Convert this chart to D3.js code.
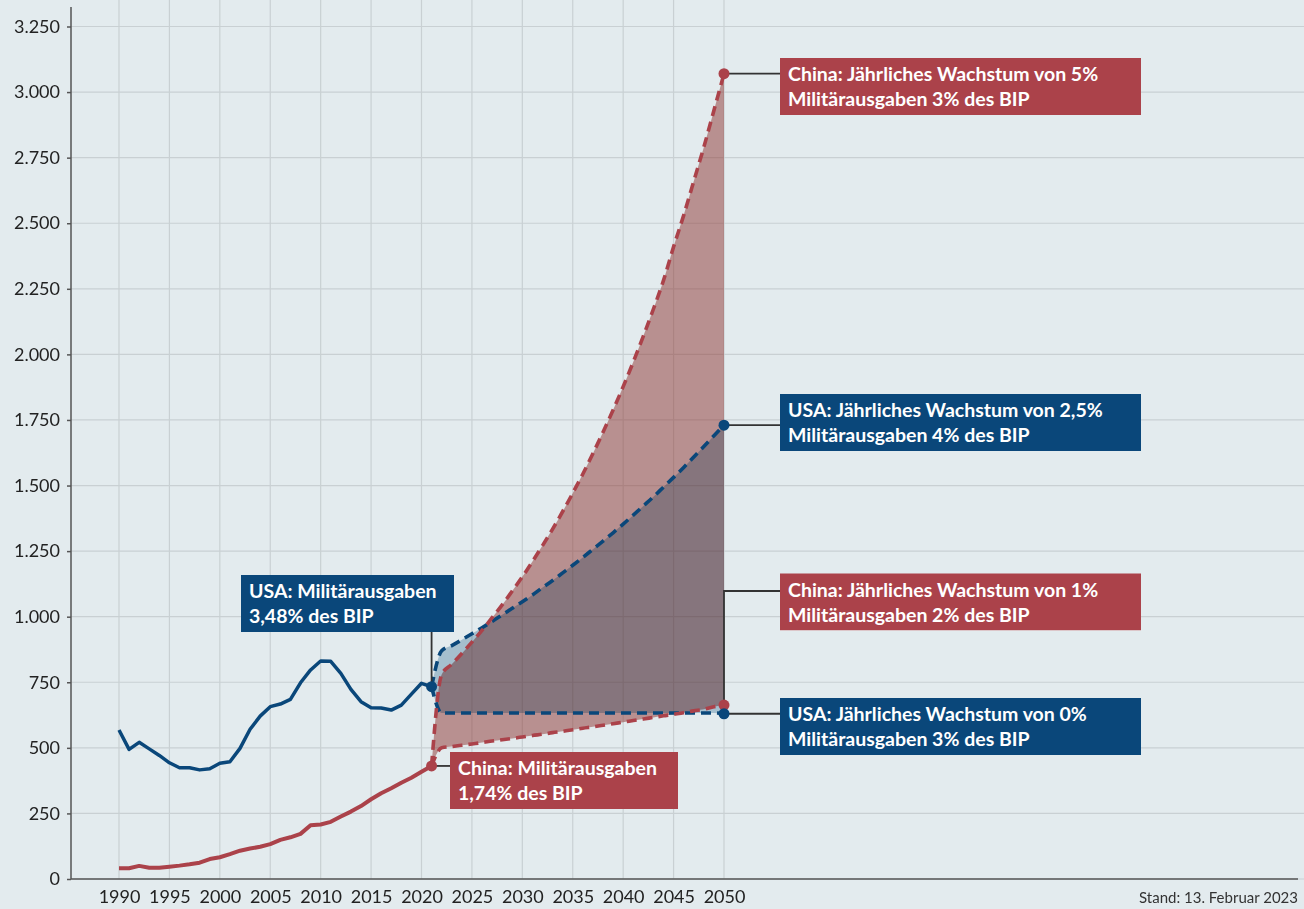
<!DOCTYPE html>
<html>
<head>
<meta charset="utf-8">
<script src="https://cdn.jsdelivr.net/npm/d3@7"></script>
<style>
  body { margin: 0; background: #e3ebee; }
  svg { display: block; font-family: Lato, "Noto Sans", sans-serif; }
</style>
</head>
<body>
<svg id="chart" width="1304" height="909"></svg>
<script>
// historical military spending, bn USD
const histYears = [1990, 1991, 1992, 1993, 1994, 1995, 1996, 1997, 1998, 1999, 2000, 2001, 2002, 2003, 2004, 2005,
  2006, 2007, 2008, 2009, 2010, 2011, 2012, 2013, 2014, 2015, 2016, 2017, 2018, 2019, 2020, 2021]
const usaHist = [568, 494, 521, 496, 471, 443, 424, 424, 416, 420, 441, 447, 498, 571, 621, 657,
  667, 685, 748, 797, 831, 830, 784, 723, 676, 653, 652, 644, 663, 705, 746, 733]
const chinaHist = [41, 41, 50, 43, 43, 47, 51, 56, 62, 76, 83, 95, 108, 116, 123, 133,
  149, 159, 172, 205, 208, 218, 238, 257, 278, 304, 327, 346, 367, 386, 409, 431]

// scenarios 2021-2050
const projYears = [2021, 2022, 2023, 2024, 2025, 2026, 2027, 2028, 2029, 2030, 2031, 2032, 2033, 2034, 2035,
  2036, 2037, 2038, 2039, 2040, 2041, 2042, 2043, 2044, 2045, 2046, 2047, 2048, 2049, 2050]
const chinaHigh = [431, 780, 819, 860, 903, 948, 996, 1045, 1098, 1152, 1210, 1271, 1334, 1401, 1471,
  1544, 1622, 1703, 1788, 1877, 1971, 2070, 2173, 2282, 2410, 2530, 2660, 2790, 2930, 3070]
const chinaLow = [431, 500, 505, 510, 515, 520, 526, 531, 536, 541, 547, 552, 558, 563, 569,
  575, 580, 586, 592, 598, 604, 610, 616, 622, 628, 634, 641, 647, 657, 663]
const usaHigh = [733, 870, 890, 912, 935, 958, 982, 1007, 1032, 1057, 1083, 1111, 1138, 1167, 1196,
  1226, 1257, 1288, 1320, 1353, 1387, 1422, 1457, 1494, 1531, 1569, 1609, 1649, 1690, 1730]
const usaLow = [733, 633, 633, 633, 633, 633, 633, 633, 633, 633, 633, 633, 633, 633, 633,
  633, 633, 633, 633, 633, 633, 633, 633, 633, 633, 633, 633, 633, 633, 630]

const xTicks = [1990, 1995, 2000, 2005, 2010, 2015, 2020, 2025, 2030, 2035, 2040, 2045, 2050]
const yTicks = [0, 250, 500, 750, 1000, 1250, 1500, 1750, 2000, 2250, 2500, 2750, 3000, 3250]

const RED = '#ab424a'
const BLUE = '#0a477a'

const W = 1304, H = 909
const plotLeft = 71, plotRight = 1300, plotTop = 7, plotBottom = 879

let svg = d3.select('#chart')
svg.append('rect').attr('width', W).attr('height', H).attr('fill', '#e3ebee')

let x = d3.scaleLinear().domain([1990, 2050]).range([119, 724])
let y = d3.scaleLinear().domain([0, 3250]).range([plotBottom, 26.5])

const de = d3.formatLocale({ decimal: ',', thousands: '.', grouping: [3], currency: ['', ' €'] })
const fmt = de.format(',d')

// grid
svg.append('g')
  .selectAll('line')
  .data(yTicks)
  .enter()
  .append('line')
  .attr('x1', plotLeft)
  .attr('x2', W)
  .attr('y1', (d) => y(d))
  .attr('y2', (d) => y(d))
  .attr('stroke', '#c9d0d3')
  .attr('stroke-width', 1.2)

svg.append('g')
  .selectAll('line')
  .data(xTicks)
  .enter()
  .append('line')
  .attr('x1', (d) => x(d))
  .attr('x2', (d) => x(d))
  .attr('y1', 0)
  .attr('y2', plotBottom)
  .attr('stroke', '#c9d0d3')
  .attr('stroke-width', 1.2)

// axes
let yAxis = d3.axisLeft(y).tickValues(yTicks).tickFormat(fmt).tickSize(4).tickPadding(7)
let gy = svg.append('g').attr('transform', `translate(${plotLeft},0)`).call(yAxis)
gy.select('.domain').remove()
gy.selectAll('.tick line').attr('stroke', '#555').attr('stroke-width', 1.5)
gy.selectAll('.tick text').attr('font-size', 18).attr('fill', '#222').style('font-family', 'Lato, sans-serif')

let xAxis = d3.axisBottom(x).tickValues(xTicks).tickFormat((d) => d).tickSize(0).tickPadding(11)
let gx = svg.append('g').attr('transform', `translate(0,${plotBottom})`).call(xAxis)
gx.select('.domain').remove()
gx.selectAll('.tick text').attr('font-size', 18).attr('fill', '#222').style('font-family', 'Lato, sans-serif')

svg.append('line')
  .attr('x1', plotLeft).attr('x2', plotLeft)
  .attr('y1', plotTop).attr('y2', plotBottom)
  .attr('stroke', '#555').attr('stroke-width', 1.5)
svg.append('line')
  .attr('x1', plotLeft).attr('x2', 1298)
  .attr('y1', plotBottom).attr('y2', plotBottom)
  .attr('stroke', '#555').attr('stroke-width', 1.5)

// scenario bands
let proj = projYears.map((yr, i) => ({ yr, cHi: chinaHigh[i], cLo: chinaLow[i], uHi: usaHigh[i], uLo: usaLow[i] }))

svg.append('path')
  .datum(proj)
  .attr('d', d3.area().curve(d3.curveMonotoneX).x((d) => x(d.yr)).y0((d) => y(d.cLo)).y1((d) => y(d.cHi)))
  .attr('fill', '#8d3532')
  .attr('fill-opacity', 0.5)

svg.append('path')
  .datum(proj)
  .attr('d', d3.area().curve(d3.curveMonotoneX).x((d) => x(d.yr)).y0((d) => y(d.uLo)).y1((d) => y(d.uHi)))
  .attr('fill', '#bacfdd')
  .style('mix-blend-mode', 'multiply')

// historical lines
let hist = histYears.map((yr, i) => ({ yr, usa: usaHist[i], china: chinaHist[i] }))

svg.append('path')
  .datum(hist)
  .attr('d', d3.line().x((d) => x(d.yr)).y((d) => y(d.usa)))
  .attr('fill', 'none')
  .attr('stroke', BLUE)
  .attr('stroke-width', 3.5)
  .attr('stroke-linejoin', 'round')

svg.append('path')
  .datum(hist)
  .attr('d', d3.line().x((d) => x(d.yr)).y((d) => y(d.china)))
  .attr('fill', 'none')
  .attr('stroke', RED)
  .attr('stroke-width', 4)
  .attr('stroke-linejoin', 'round')

// dashed scenario lines
const dashed = [
  { key: 'uLo', color: BLUE },
  { key: 'uHi', color: BLUE },
  { key: 'cLo', color: RED },
  { key: 'cHi', color: RED }
]
dashed.forEach((s) => {
  svg.append('path')
    .datum(proj)
    .attr('d', d3.line().curve(d3.curveMonotoneX).x((d) => x(d.yr)).y((d) => y(d[s.key])))
    .attr('fill', 'none')
    .attr('stroke', s.color)
    .attr('stroke-width', 3.6)
    .attr('stroke-dasharray', '10,6')
})

// annotations: box position is layout, anchor is data
const notes = [
  { lines: ['China: Jährliches Wachstum von 5%', 'Militärausgaben 3% des BIP'], color: RED, yr: 2050, val: chinaHigh[29], bx: 780, by: 58, w: 361, link: 'h' },
  { lines: ['USA: Jährliches Wachstum von 2,5%', 'Militärausgaben 4% des BIP'], color: BLUE, yr: 2050, val: usaHigh[29], bx: 780, by: 394, w: 361, link: 'h' },
  { lines: ['China: Jährliches Wachstum von 1%', 'Militärausgaben 2% des BIP'], color: RED, yr: 2050, val: chinaLow[29], bx: 780, by: 573.5, w: 361, link: 'elbow', ly: 591 },
  { lines: ['USA: Jährliches Wachstum von 0%', 'Militärausgaben 3% des BIP'], color: BLUE, yr: 2050, val: usaLow[29], bx: 780, by: 698, w: 361, link: 'h' },
  { lines: ['USA: Militärausgaben', '3,48% des BIP'], color: BLUE, yr: 2021, val: usaHist[31], bx: 241, by: 575, w: 213, link: 'v' },
  { lines: ['China: Militärausgaben', '1,74% des BIP'], color: RED, yr: 2021, val: chinaHist[31], bx: 450, by: 752, w: 228, link: 'h' }
]

notes.forEach((n) => {
  let px = x(n.yr), py = y(n.val)
  let path
  if (n.link === 'h') path = `M${px},${py}H${n.bx}`
  else if (n.link === 'v') path = `M${px},${py}V${n.by + 57}`
  else path = `M${px},${py}V${n.ly}H${n.bx}`
  svg.append('path').attr('d', path).attr('fill', 'none').attr('stroke', '#333').attr('stroke-width', 1.8)
})

// markers
const markers = [
  { yr: 2021, val: usaHist[31], color: BLUE },
  { yr: 2021, val: chinaHist[31], color: RED },
  { yr: 2050, val: chinaHigh[29], color: RED },
  { yr: 2050, val: usaHigh[29], color: BLUE },
  { yr: 2050, val: chinaLow[29], color: RED },
  { yr: 2050, val: usaLow[29], color: BLUE }
]
svg.selectAll('.dot')
  .data(markers)
  .enter()
  .append('circle')
  .attr('class', 'dot')
  .attr('cx', (d) => x(d.yr))
  .attr('cy', (d) => y(d.val))
  .attr('r', 5.5)
  .attr('fill', (d) => d.color)

notes.forEach((n) => {
  let g = svg.append('g').attr('transform', `translate(${n.bx},${n.by})`)
  g.append('rect').attr('width', n.w).attr('height', 57).attr('fill', n.color)
  g.append('text')
    .attr('fill', '#fff')
    .attr('font-weight', 700)
    .attr('font-size', 19.5)
    .selectAll('tspan')
    .data(n.lines)
    .enter()
    .append('tspan')
    .attr('x', 8)
    .attr('y', (d, i) => 23 + i * 25)
    .text((d) => d)
})

svg.append('text')
  .attr('x', 1298)
  .attr('y', 903)
  .attr('text-anchor', 'end')
  .attr('font-size', 15)
  .attr('fill', '#333')
  .text('Stand: 13. Februar 2023')
</script>
</body>
</html>
